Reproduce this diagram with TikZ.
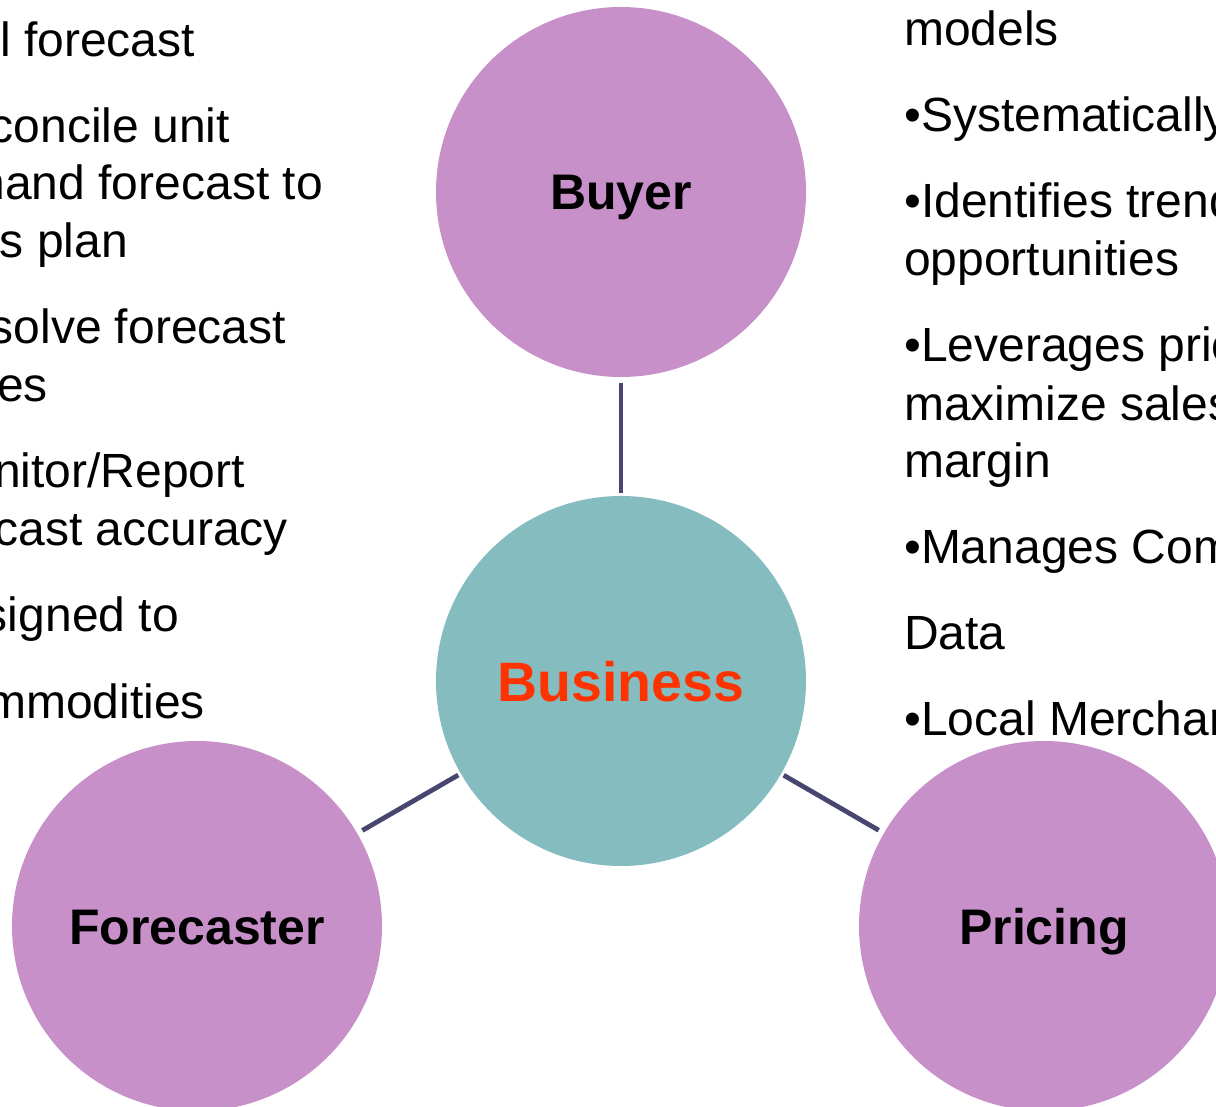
\documentclass[tikz,border=0pt]{standalone}
\usepackage{fontspec}
\setmainfont{Liberation Sans}
\definecolor{rolepurple}{HTML}{C890C9}
\definecolor{hubteal}{HTML}{85BCC0}
\definecolor{linkblue}{HTML}{46466F}
\definecolor{hubred}{HTML}{FF3300}
\tikzset{
    rolenode/.style = {circle, minimum size=370pt, inner sep=0pt, outer sep=0pt, fill=rolepurple, font=\fontsize{50}{60}\selectfont\bfseries, text=black, text height=36pt, text depth=0pt},
    hubnode/.style = {circle, minimum size=370pt, inner sep=0pt, outer sep=0pt, fill=hubteal, font=\fontsize{55.5}{66}\selectfont\bfseries, text=hubred, text height=40pt, text depth=0pt},
    notel/.style = {anchor=base east, inner sep=0pt, font=\fontsize{48}{57.5}\selectfont, text=black},
    noter/.style = {anchor=base west, inner sep=0pt, font=\fontsize{48}{57.5}\selectfont, text=black},
    edgel/.style = {-, line width=4.8pt, linkblue, shorten <=6pt, shorten >=3pt}
}
\begin{document}
\begin{tikzpicture}[x=1pt,y=-1pt]
\useasboundingbox (0,0) rectangle (1216,1107);
\clip (0,0) rectangle (1216,1107);
% left notes
\node[notel] at (195,57) (f1) {l forecast};
\node[notel] at (230,143) (f2) {concile unit};
\node[notel] at (323,200) (f3) {nand forecast to};
\node[notel] at (128,258) (f4) {s plan};
\node[notel] at (286,344) (f5) {solve forecast};
\node[notel] at (48,401) (f6) {es};
\node[notel] at (245,487) (f7) {nitor/Report};
\node[notel] at (288,545) (f8) {cast accuracy};
\node[notel] at (179,631) (f9) {signed to};
\node[notel] at (205,718) (f10) {mmodities};
% right notes
\node[noter] at (904,46) (p1) {models};
\node[noter] at (904,132) (p2) {•Systematically};
\node[noter] at (904,218) (p3) {•Identifies trend};
\node[noter] at (904,276) (p4) {opportunities};
\node[noter] at (904,362) (p5) {•Leverages pric};
\node[noter] at (904,420) (p6) {maximize sales};
\node[noter] at (904,477) (p7) {margin};
\node[noter] at (904,563) (p8) {•Manages Com};
\node[noter] at (904,649) (p9) {Data};
\node[noter] at (904,735) (p10) {•Local Merchan};
%
\node[rolenode] at (621,192) (buyer) {Buyer};
\node[hubnode] at (621,681) (business) {Business};
\node[rolenode] at (197,926) (forecaster) {Forecaster};
\node[rolenode] at (1044,926) (pricing) {Pricing};
%
\draw[edgel] (buyer) -- (business);
\draw[edgel] (forecaster) -- (business);
\draw[edgel] (pricing) -- (business);
\end{tikzpicture}
\end{document}
